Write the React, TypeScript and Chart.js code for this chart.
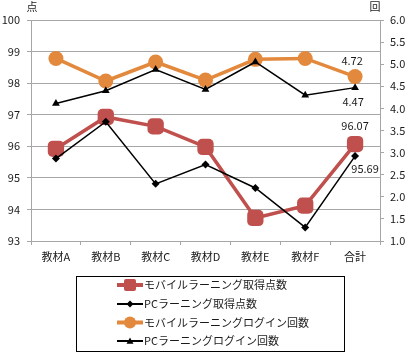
import React, { useEffect, useRef } from 'react';
import { Chart, registerables } from 'chart.js';

Chart.register(...registerables);

const FONT = '"Noto Sans CJK JP", "Noto Sans", sans-serif';

const categories = ['教材A', '教材B', '教材C', '教材D', '教材E', '教材F', '合計'];
const seriesNames = [
  'モバイルラーニング取得点数',
  'PCラーニング取得点数',
  'モバイルラーニングログイン回数',
  'PCラーニングログイン回数',
];
const mobileScore = [95.92, 96.93, 96.63, 95.98, 93.73, 94.12, 96.07];
const pcScore = [95.61, 96.78, 94.81, 95.42, 94.68, 93.43, 95.69];
const mobileLogin = [5.13, 4.62, 5.05, 4.64, 5.11, 5.13, 4.72];
const pcLogin = [4.11, 4.4, 4.88, 4.43, 5.05, 4.3, 4.47];
const leftMin = 93;
const leftMax = 100;
const rightMin = 1;
const rightMax = 6;
const leftUnit = '点';
const rightUnit = '回';

const RED = '#C0504D';
const ORANGE = '#E3893D';
const BLACK = '#000000';
const GRID = '#A6A6A6';
const TEXT = '#1a1a1a';

const labelOffsets = [
  { dx: 0, dy: -18 },
  { dx: 10, dy: 13 },
  { dx: -3, dy: -16 },
  { dx: -2, dy: 14 },
];

function drawMarker(ctx: CanvasRenderingContext2D, style: string, x: number, y: number, color: string, size: number) {
  ctx.save();
  ctx.fillStyle = color;
  ctx.beginPath();
  if (style === 'square') {
    const h = size / 2;
    const r = 2;
    ctx.moveTo(x - h + r, y - h);
    ctx.arcTo(x + h, y - h, x + h, y + h, r);
    ctx.arcTo(x + h, y + h, x - h, y + h, r);
    ctx.arcTo(x - h, y + h, x - h, y - h, r);
    ctx.arcTo(x - h, y - h, x + h, y - h, r);
  } else if (style === 'circle') {
    ctx.arc(x, y, size / 2, 0, Math.PI * 2);
  } else if (style === 'diamond') {
    const h = size / 2;
    ctx.moveTo(x, y - h);
    ctx.lineTo(x + h, y);
    ctx.lineTo(x, y + h);
    ctx.lineTo(x - h, y);
  } else {
    const h = size / 2;
    ctx.moveTo(x, y - h);
    ctx.lineTo(x + h, y + h * 0.8);
    ctx.lineTo(x - h, y + h * 0.8);
  }
  ctx.closePath();
  ctx.fill();
  ctx.restore();
}

const legendStyles = [
  { marker: 'square', color: RED, lw: 4, size: 12 },
  { marker: 'diamond', color: BLACK, lw: 2, size: 7 },
  { marker: 'circle', color: ORANGE, lw: 4, size: 12 },
  { marker: 'triangle', color: BLACK, lw: 2, size: 7 },
];

const extrasPlugin = {
  id: 'extras',
  afterDatasetsDraw(chart: any) {
    const ctx: CanvasRenderingContext2D = chart.ctx;
    ctx.save();
    ctx.font = `11px ${FONT}`;
    ctx.fillStyle = TEXT;
    ctx.textAlign = 'center';
    ctx.textBaseline = 'middle';
    chart.data.datasets.forEach((ds: any, i: number) => {
      const meta = chart.getDatasetMeta(i);
      const pt = meta.data[meta.data.length - 1];
      const v = ds.data[ds.data.length - 1] as number;
      const off = labelOffsets[i];
      ctx.fillText(v.toFixed(2), pt.x + off.dx, pt.y + off.dy);
    });
    ctx.restore();
  },
  afterDraw(chart: any) {
    const ctx: CanvasRenderingContext2D = chart.ctx;
    const area = chart.chartArea;
    ctx.save();
    ctx.font = `11px ${FONT}`;
    ctx.fillStyle = TEXT;
    ctx.textAlign = 'center';
    ctx.textBaseline = 'middle';
    ctx.fillText(leftUnit, area.left + 1, 7);
    ctx.fillText(rightUnit, area.right - 5, 7);

    // legend
    const bx = 76.5, by = 276.5, bw = 268, bh = 75;
    ctx.strokeStyle = '#000';
    ctx.lineWidth = 1;
    ctx.strokeRect(bx, by, bw, bh);
    const rows = [285, 304, 322.5, 341];
    ctx.textAlign = 'left';
    seriesNames.forEach((name, i) => {
      const s = legendStyles[i];
      const y = rows[i];
      ctx.strokeStyle = s.color;
      ctx.lineWidth = s.lw;
      ctx.beginPath();
      ctx.moveTo(117, y);
      ctx.lineTo(143, y);
      ctx.stroke();
      drawMarker(ctx, s.marker, 130, y, s.color, s.size);
      ctx.fillStyle = TEXT;
      ctx.fillText(name, 144, y);
    });
    ctx.restore();
  },
};

export default function App() {
  const ref = useRef<HTMLCanvasElement>(null);
  useEffect(() => {
    if (!ref.current) return;
    const chart = new Chart(ref.current, {
      type: 'line',
      data: {
        labels: categories,
        datasets: [
          {
            label: seriesNames[0],
            data: mobileScore,
            yAxisID: 'y',
            borderColor: RED,
            backgroundColor: RED,
            borderWidth: 3.5,
            pointStyle: 'rectRounded',
            pointRadius: 9.5,
            pointBorderWidth: 0,
            order: 2,
          },
          {
            label: seriesNames[1],
            data: pcScore,
            yAxisID: 'y',
            borderColor: BLACK,
            backgroundColor: BLACK,
            borderWidth: 1.5,
            pointStyle: 'rectRot',
            pointRadius: 4,
            pointBorderWidth: 0,
            order: 0,
          },
          {
            label: seriesNames[2],
            data: mobileLogin,
            yAxisID: 'y1',
            borderColor: ORANGE,
            backgroundColor: ORANGE,
            borderWidth: 3.5,
            pointStyle: 'circle',
            pointRadius: 7.5,
            pointBorderWidth: 0,
            order: 3,
          },
          {
            label: seriesNames[3],
            data: pcLogin,
            yAxisID: 'y1',
            borderColor: BLACK,
            backgroundColor: BLACK,
            borderWidth: 1.5,
            pointStyle: 'triangle',
            pointRadius: 4.5,
            pointBorderWidth: 0,
            order: 1,
          },
        ],
      },
      options: {
        animation: false,
        responsive: false,
        devicePixelRatio: 1,
        layout: { padding: { left: 0, right: 0, top: 20, bottom: 93 } },
        plugins: {
          legend: { display: false },
          tooltip: { enabled: false },
        },
        elements: { line: { tension: 0 } },
        scales: {
          x: {
            offset: true,
            grid: {
              offset: true,
              drawOnChartArea: false,
              drawTicks: true,
              tickLength: 4,
              color: GRID,
            },
            border: { color: GRID, width: 1 },
            ticks: { color: TEXT, font: { family: FONT, size: 11 }, padding: 5, maxRotation: 0 },
            afterFit: (s: any) => { s.height = 25; },
          },
          y: {
            position: 'left',
            min: leftMin,
            max: leftMax,
            grid: { color: GRID, tickLength: 4, lineWidth: 1 },
            border: { color: GRID, width: 1 },
            ticks: { stepSize: 1, color: TEXT, font: { family: FONT, size: 11 }, padding: 7 },
            afterFit: (s: any) => { s.width = 31; },
          },
          y1: {
            position: 'right',
            min: rightMin,
            max: rightMax,
            grid: { drawOnChartArea: false, color: GRID, tickLength: 4 },
            border: { color: GRID, width: 1 },
            ticks: {
              stepSize: 0.5,
              color: TEXT,
              font: { family: FONT, size: 11 },
              padding: 6,
              callback: (v: any) => Number(v).toFixed(1),
            },
            afterFit: (s: any) => { s.width = 34; },
          },
        },
      },
      plugins: [extrasPlugin],
    });
    return () => chart.destroy();
  }, []);
  return (
    <div style={{ position: 'fixed', left: 0, top: 0, width: 414, height: 359, background: '#fff' }}>
      <canvas ref={ref} width={414} height={359} style={{ width: 414, height: 359, display: 'block' }} />
    </div>
  );
}
